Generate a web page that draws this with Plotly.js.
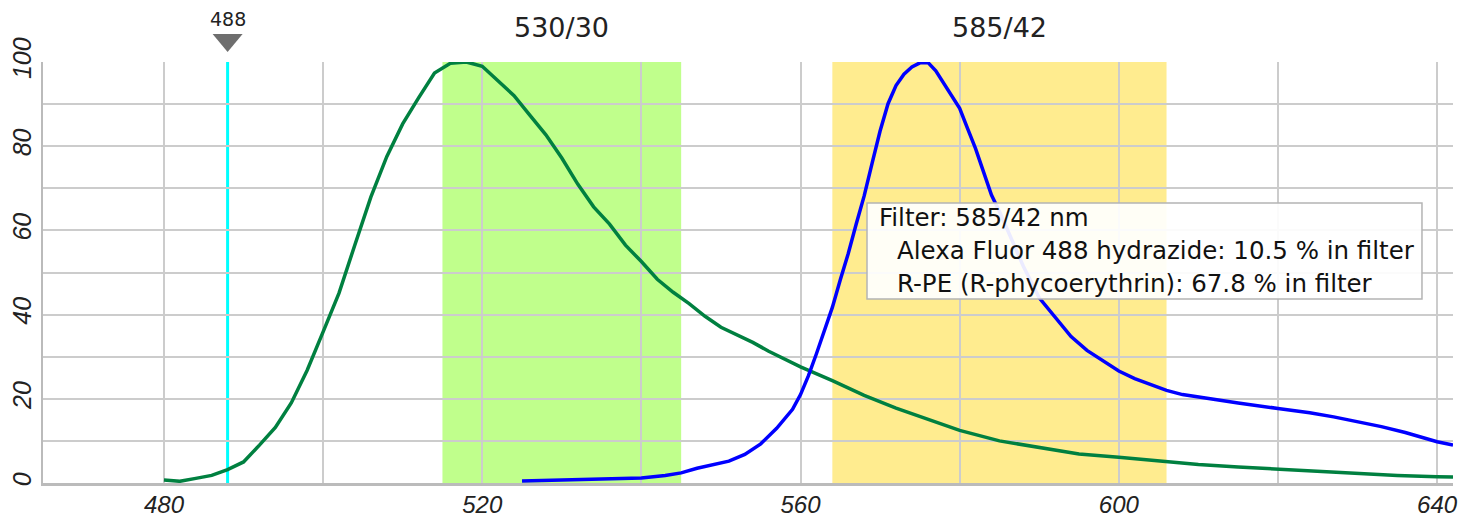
<!DOCTYPE html>
<html>
<head>
<meta charset="utf-8">
<script src="https://cdn.plot.ly/plotly-3.0.1.min.js"></script>
<style>html,body{margin:0;padding:0;background:#fff;}#chart{width:1458px;height:517px;}</style>
</head>
<body>
<div id="chart"></div>
<script>
// Alexa Fluor 488 hydrazide emission (green)
const alexaWl  = [480,482,484,486,488,490,492,494,496,498,500,502,504,506,508,510,512,514,516,518,520,522,524,526,528,530,532,534,536,538,540,542,544,546,548,550,552,554,556,558,560,564,568,572,576,580,585,590,595,600,605,610,615,620,625,630,635,640,642];
const alexaVal = [0.7,0.4,1.1,1.8,3.2,5.0,9.0,13.2,19.0,26.8,35.9,45.1,56.6,67.9,77.5,85.3,91.5,97.4,99.7,100,99.0,95.4,92.0,87.3,82.7,77.2,71.0,65.6,61.5,56.5,52.6,48.4,45.3,42.6,39.6,37.0,35.2,33.4,31.3,29.4,27.6,24.3,20.8,17.8,15.2,12.5,10.0,8.4,6.9,6.1,5.2,4.4,3.8,3.3,2.7,2.2,1.8,1.5,1.4];
// R-PE (R-phycoerythrin) emission (blue)
const rpeWl  = [525,530,535,540,543,545,547,549,551,553,555,557,559,560,561,562,563,564,565,566,567,568,569,570,571,572,573,574,575,576,577,578,579,580,581,582,583,584,585,586,588,590,592,594,596,598,600,602,604,606,608,611,615,620,624,627,630,633,636,638,640,642];
const rpeVal = [0.5,0.8,1.0,1.2,1.8,2.4,3.5,4.4,5.2,6.8,9.3,13.0,17.5,21.0,25.5,30.7,36.0,41.7,48.3,54.5,61.5,68.2,76.0,83.6,90.1,94.4,97.1,98.8,99.8,99.9,97.9,95.0,92.1,89.0,84.2,79.4,73.9,68.4,64.5,60.0,51.5,44.0,39.5,34.8,31.5,29.0,26.6,24.8,23.3,22.0,21.0,20.1,19.0,17.7,16.7,15.7,14.6,13.4,12.0,10.8,9.8,9.0];
// Filters
const filterCenters = [530, 585];
const filterWidths  = [30, 42];
const filterLabels  = ['530/30', '585/42'];
const filterColors  = ['#c0ff8c', '#ffec8f'];
// Laser
const laserLine = 488;
// Tooltip text
const tooltipTitle = 'Filter: 585/42 nm';
const tooltipLines = ['Alexa Fluor 488 hydrazide: 10.5 % in filter', 'R-PE (R-phycoerythrin): 67.8 % in filter'];

const traces = [
  {x: alexaWl, y: alexaVal, type: 'scatter', mode: 'lines', line: {color: '#008040', width: 3.5}, hoverinfo: 'skip'},
  {x: rpeWl, y: rpeVal, type: 'scatter', mode: 'lines', line: {color: '#0000ff', width: 3.5}, hoverinfo: 'skip'}
];

const shapes = [];
const annotations = [];
filterCenters.forEach((c, i) => {
  shapes.push({type: 'rect', xref: 'x', yref: 'paper', x0: c - filterWidths[i] / 2, x1: c + filterWidths[i] / 2, y0: 0, y1: 1,
    fillcolor: filterColors[i], line: {width: 0}, layer: 'below'});
  annotations.push({xref: 'x', yref: 'paper', x: c, y: 1.0808, text: filterLabels[i], showarrow: false,
    xanchor: 'center', yanchor: 'middle', font: {family: 'DejaVu Sans', size: 27, color: '#222'}});
});
shapes.push({type: 'line', xref: 'x', yref: 'paper', x0: laserLine, x1: laserLine, y0: 0, y1: 1,
  line: {color: '#00ffff', width: 3}, layer: 'between'});
shapes.push({type: 'path', xref: 'x', yref: 'paper', xsizemode: 'pixel', ysizemode: 'pixel', xanchor: laserLine, yanchor: 1,
  path: 'M -15 28 L 15 28 L 0 10 Z', fillcolor: '#6e6e6e', line: {width: 0}});
annotations.push({xref: 'x', yref: 'paper', x: laserLine, y: 1.1021, text: String(laserLine), showarrow: false,
  xanchor: 'center', yanchor: 'middle', font: {family: 'DejaVu Sans', size: 19, color: '#222'}});

// tooltip box
shapes.push({type: 'rect', xref: 'paper', yref: 'paper', x0: 0.5844, x1: 0.9780, y0: 0.4371, y1: 0.6651,
  fillcolor: 'rgba(255,255,255,0.92)', line: {color: '#b4b4b4', width: 1.5}, layer: 'above'});
annotations.push({xref: 'paper', yref: 'paper', x: 0.5915, y: 0.6295, text: tooltipTitle, showarrow: false,
  xanchor: 'left', yanchor: 'middle', font: {family: 'DejaVu Sans', size: 24.5, color: '#111'}});
tooltipLines.forEach((t, i) => {
  annotations.push({xref: 'paper', yref: 'paper', x: 0.6043, y: [0.5511, 0.4727][i], text: t, showarrow: false,
    xanchor: 'left', yanchor: 'middle', font: {family: 'DejaVu Sans', size: 24.5, color: '#111'}});
});

const layout = {
  width: 1458, height: 517,
  margin: {l: 43, r: 5, t: 62, b: 34},
  paper_bgcolor: '#ffffff', plot_bgcolor: '#ffffff',
  showlegend: false,
  xaxis: {range: [464.8, 642.0], dtick: 40, tick0: 480, showgrid: true, gridcolor: '#cccccc', gridwidth: 2,
    minor: {dtick: 20, tick0: 480, showgrid: true, gridcolor: '#cccccc', gridwidth: 2},
    showline: true, linecolor: '#bbbbbb', linewidth: 3, zeroline: false, ticks: '', ticklabelstandoff: -2,
    tickfont: {family: 'Liberation Sans', size: 24, style: 'italic', color: '#222'}},
  yaxis: {range: [0, 100], dtick: 20, showgrid: true, gridcolor: '#cccccc', gridwidth: 2,
    minor: {dtick: 10, showgrid: true, gridcolor: '#cccccc', gridwidth: 2},
    showline: true, linecolor: '#bbbbbb', linewidth: 2, zeroline: false, ticks: '', tickangle: -90,
    tickfont: {family: 'Liberation Sans', size: 25, style: 'italic', color: '#222'}},
  shapes: shapes,
  annotations: annotations
};

Plotly.newPlot('chart', traces, layout, {staticPlot: true, displayModeBar: false});
</script>
</body>
</html>
